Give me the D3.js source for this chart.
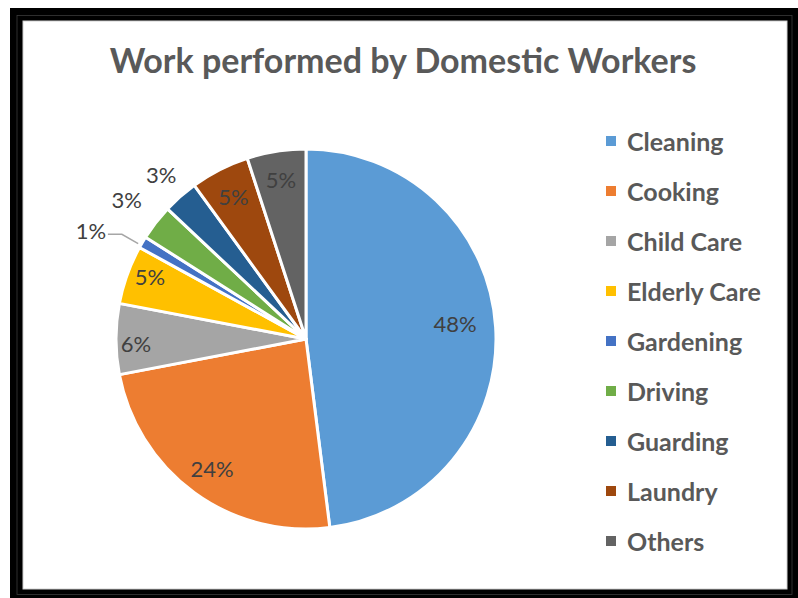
<!DOCTYPE html>
<html>
<head>
<meta charset="utf-8">
<script src="https://cdn.jsdelivr.net/npm/d3@7"></script>
<style>
  html, body { margin: 0; padding: 0; background: #ffffff; }
  svg { display: block; }
</style>
</head>
<body>
<script>
// Share of work performed by domestic workers, in percent
const categories = ["Cleaning", "Cooking", "Child Care", "Elderly Care", "Gardening", "Driving", "Guarding", "Laundry", "Others"];
const shares = [48, 24, 6, 5, 1, 3, 3, 5, 5];
const sliceColors = ["#5B9BD5", "#ED7D31", "#A5A5A5", "#FFC000", "#4472C4", "#70AD47", "#255E91", "#9E480E", "#636363"];
const chartTitle = "Work performed by Domestic Workers";

// Label placement per slice: radius, angular nudge (degrees), leader line
const labelPlacement = {
  "Cleaning":     { r: 150, dA: -2.5 },
  "Cooking":      { r: 160, dA: 0 },
  "Child Care":   { r: 170, dA: -1.5 },
  "Elderly Care": { r: 168, dA: 2 },
  "Gardening":    { r: 241, dA: -3.8, leader: true },
  "Driving":      { r: 227, dA: 0 },
  "Guarding":     { r: 219, dA: 0 },
  "Laundry":      { r: 160, dA: 0 },
  "Others":       { r: 161, dA: 0 }
};

const W = 798, H = 598;
const FONT = "Lato, 'Open Sans', 'Noto Sans', sans-serif";

const svg = d3.select("body").append("svg")
  .attr("width", W).attr("height", H);

// Black frame with the white chart area inside
svg.append("rect").attr("x", 10).attr("y", 8).attr("width", W - 10).attr("height", H - 8).attr("fill", "#000");
svg.append("rect").attr("x", 17).attr("y", 15.5).attr("width", 775).attr("height", 579)
  .attr("fill", "none").attr("stroke", "#3a3a3a").attr("stroke-width", 0.8);
svg.append("rect").attr("x", 23).attr("y", 21).attr("width", 764).attr("height", 568)
  .attr("fill", "#fff").attr("stroke", "#d0d0d0").attr("stroke-width", 1);

// Title
svg.append("text")
  .attr("x", 403).attr("y", 73)
  .attr("text-anchor", "middle")
  .attr("font-family", FONT).attr("font-weight", 700).attr("font-size", 34)
  .attr("fill", "#595959")
  .text(chartTitle);

// Pie
const cx = 306, cy = 339, R = 190;
const color = d3.scaleOrdinal().domain(categories).range(sliceColors);
const data = categories.map((c, i) => ({ name: c, value: shares[i] }));
const pie = d3.pie().value(d => d.value).sort(null);
const arcs = pie(data);
const arc = d3.arc().innerRadius(0).outerRadius(R);

const g = svg.append("g").attr("transform", `translate(${cx},${cy})`);

g.selectAll("path.slice")
  .data(arcs)
  .join("path")
  .attr("class", "slice")
  .attr("d", arc)
  .attr("fill", d => color(d.data.name))
  .attr("stroke", "#fff")
  .attr("stroke-width", 3)
  .attr("stroke-linejoin", "round");

// Percentage labels
const polar = (r, a) => [r * Math.sin(a), -r * Math.cos(a)];
arcs.forEach(d => {
  const p = labelPlacement[d.data.name];
  const mid = (d.startAngle + d.endAngle) / 2 + p.dA * Math.PI / 180;
  const [x, y] = polar(p.r, mid);
  g.append("text")
    .attr("x", x).attr("y", y)
    .attr("text-anchor", "middle")
    .attr("dominant-baseline", "central")
    .attr("font-family", FONT).attr("font-size", 22)
    .attr("fill", "#404040")
    .text(d.data.value + "%");
  if (p.leader) {
    const a0 = (d.startAngle + d.endAngle) / 2 - 1 * Math.PI / 180;
    const [ex, ey] = polar(R + 3, a0);
    const sx = x + 17, sy = y + 4;
    g.append("polyline")
      .attr("points", [[sx, sy], [sx + 14, sy], [ex, ey]].map(q => q.join(",")).join(" "))
      .attr("fill", "none").attr("stroke", "#a6a6a6").attr("stroke-width", 1.5);
  }
});

// Legend
const legend = svg.append("g").attr("transform", "translate(606,141)");
const rowGap = 50;
const items = legend.selectAll("g.item")
  .data(categories)
  .join("g")
  .attr("class", "item")
  .attr("transform", (d, i) => `translate(0,${i * rowGap})`);
items.append("rect")
  .attr("x", 0).attr("y", -5).attr("width", 10).attr("height", 10)
  .attr("fill", d => color(d));
items.append("text")
  .attr("x", 21).attr("y", 0)
  .attr("dominant-baseline", "central")
  .attr("font-family", FONT).attr("font-weight", 700).attr("font-size", 25)
  .attr("fill", "#595959")
  .text(d => d);
</script>
</body>
</html>
